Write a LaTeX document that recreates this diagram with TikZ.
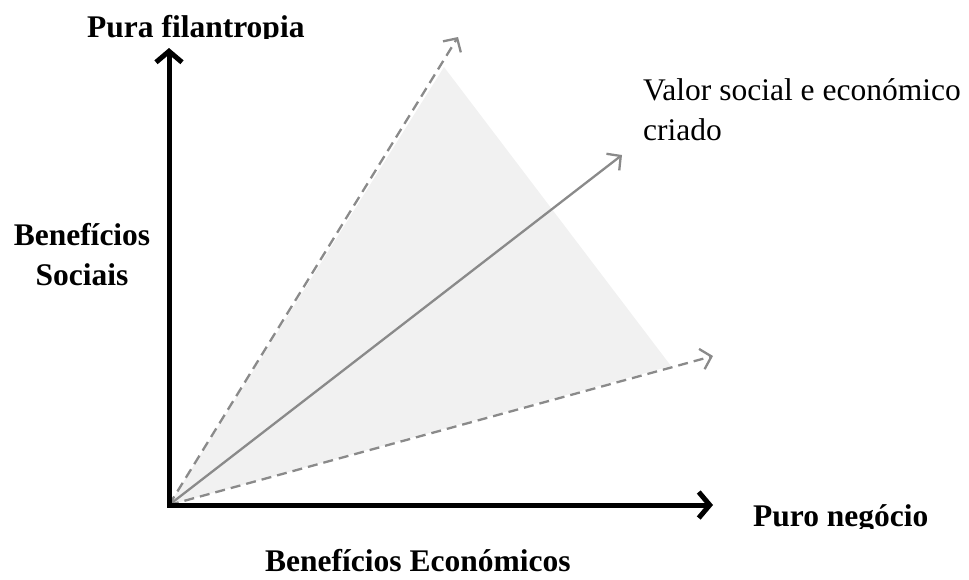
\documentclass[tikz,border=0pt]{standalone}
\usepackage{fontspec}
\setmainfont{Liberation Serif}
\usetikzlibrary{arrows.meta}
\definecolor{fillgray}{RGB}{241,241,241}
\definecolor{arrgray}{RGB}{138,138,138}
\begin{document}
\begin{tikzpicture}[x=1pt,y=-1pt,
  axis/.style={line width=5pt, black, line join=miter,
    {Straight Barb[length=11pt,width=26pt]}-{Straight Barb[length=11pt,width=26pt]}},
  gline/.style={line width=2.3pt, arrgray, -{Straight Barb[length=10pt,width=21pt]}},
  gdash/.style={gline, dash pattern=on 10pt off 6pt},
  lbl/.style={inner sep=0pt, font=\fontsize{31.5}{40}\selectfont},
  blbl/.style={inner sep=0pt, font=\fontsize{31.5}{40}\selectfont\bfseries}]
\useasboundingbox (0,0) rectangle (969,579);
% key points
\coordinate (O) at (169,505);
\coordinate (Ytip) at (169,48);
\coordinate (Xtip) at (713,505);
\coordinate (Atip) at (458,37);
\coordinate (Btip) at (713,356);
\coordinate (Ctip) at (622,155);
\coordinate (Tt) at (444,67);
\coordinate (Tr) at (671,366);
% shaded zone
\fill[fillgray] (O) -- (Tt) -- (Tr) -- cycle;
% grey arrows
\draw[gdash] (O) -- (Atip);
\draw[gdash] (O) -- (Btip);
\draw[gline] (O) -- (Ctip);
% axes
\draw[axis] (Ytip) -- (O) -- (Xtip);
% labels
\begin{scope}
  \clip (0,0) rectangle (969,38);
  \node[blbl, anchor=base west] (pf) at (87,37) {Pura filantropia};
\end{scope}
\begin{scope}
  \clip (730,480) rectangle (969,528);
  \node[blbl, anchor=base west] (pn) at (753,526) {Puro negócio};
\end{scope}
\node[blbl, anchor=base west] (be) at (265,571) {Benefícios Económicos};
\node[blbl, anchor=base, align=center] (bs) at (82,285) {Benefícios\\Sociais};
\node[lbl, anchor=base west, align=left] (vs) at (643,140) {Valor social e económico\\criado};
\end{tikzpicture}
\end{document}
